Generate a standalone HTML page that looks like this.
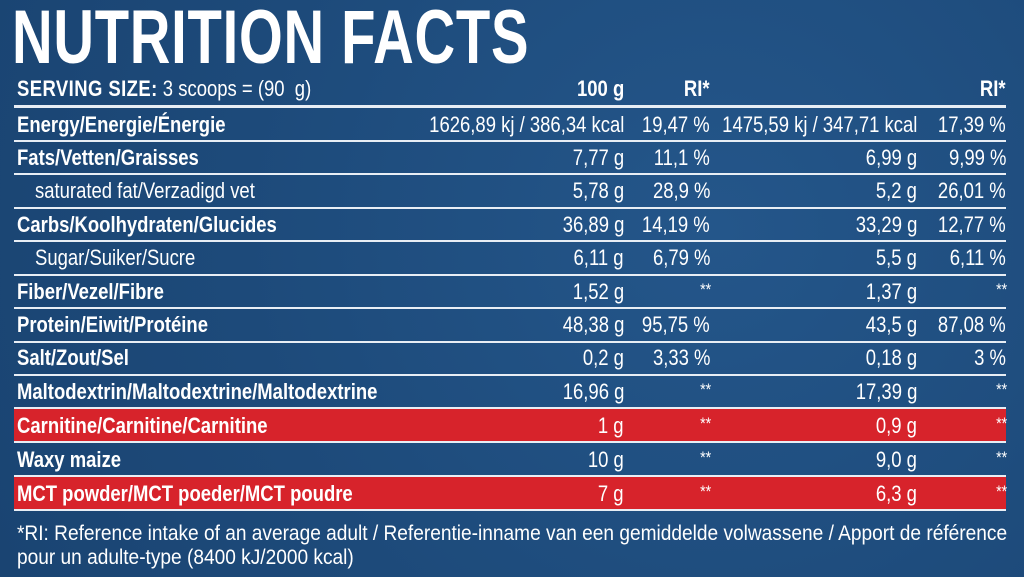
<!DOCTYPE html>
<html><head><meta charset="utf-8"><style>
body{margin:0;width:1024px;height:577px;overflow:hidden;background:#1e4c7c;font-family:"Liberation Sans",sans-serif;color:#fff;position:relative}
.bg{position:absolute;inset:0;background:radial-gradient(circle at 70% 40%,#24568a 0,#1d4a7a 60%,#1a4472 100%)}
.t{position:absolute;white-space:nowrap;transform:scaleX(.84);transform-origin:left center;font-size:22px;line-height:24px}
.r{position:absolute;white-space:nowrap;transform:scaleX(.84);transform-origin:right center;font-size:22px;line-height:24px;text-align:right}
.s{font-size:17px;top:0}
.b{font-weight:bold}
.line{position:absolute;left:14px;width:992px;height:2px;background:#e8eef5}
.red{position:absolute;left:14px;width:992px;background:#d7232b}
</style></head><body>
<div class="bg"></div>
<div style="position:absolute;left:12px;top:-4px;font-size:76px;font-weight:bold;line-height:84px;transform:scaleX(.74);transform-origin:left;white-space:nowrap;letter-spacing:1px">NUTRITION FACTS</div>
<div class="t" style="left:17px;top:77px"><b style="letter-spacing:0.5px">SERVING SIZE:</b> 3 scoops = (90&nbsp; g)</div>
<div class="r b" style="right:400px;top:77px">100 g</div>
<div class="r b" style="right:314px;top:77px">RI*</div>
<div class="r b" style="right:18px;top:77px">RI*</div>
<div class="line" style="top:105px;height:3px"></div>
<div class="red" style="top:408px;height:33px"></div>
<div class="red" style="top:476px;height:33px"></div>
<div class="line" style="top:140px"></div><div class="line" style="top:173px"></div><div class="line" style="top:207px"></div><div class="line" style="top:240px"></div><div class="line" style="top:274px"></div><div class="line" style="top:307px"></div><div class="line" style="top:341px"></div><div class="line" style="top:374px"></div><div class="line" style="top:407px"></div><div class="line" style="top:441px"></div><div class="line" style="top:475px"></div><div class="line" style="top:509px"></div>

<div class="t b" style="left:17px;top:113px">Energy/Energie/Énergie</div>
<div class="r" style="right:400px;top:113px">1626,89 kj / 386,34 kcal</div><div class="r" style="right:314px;top:113px">19,47 %</div><div class="r" style="right:107px;top:113px">1475,59 kj / 347,71 kcal</div><div class="r" style="right:18px;top:113px">17,39 %</div>

<div class="t b" style="left:17px;top:146px">Fats/Vetten/Graisses</div>
<div class="r" style="right:400px;top:146px">7,77 g</div><div class="r" style="right:314px;top:146px">11,1 %</div><div class="r" style="right:107px;top:146px">6,99 g</div><div class="r" style="right:18px;top:146px">9,99 %</div>

<div class="t" style="left:35px;top:179px">saturated fat/Verzadigd vet</div>
<div class="r" style="right:400px;top:179px">5,78 g</div><div class="r" style="right:314px;top:179px">28,9 %</div><div class="r" style="right:107px;top:179px">5,2 g</div><div class="r" style="right:18px;top:179px">26,01 %</div>

<div class="t b" style="left:17px;top:213px">Carbs/Koolhydraten/Glucides</div>
<div class="r" style="right:400px;top:213px">36,89 g</div><div class="r" style="right:314px;top:213px">14,19 %</div><div class="r" style="right:107px;top:213px">33,29 g</div><div class="r" style="right:18px;top:213px">12,77 %</div>

<div class="t" style="left:35px;top:246px">Sugar/Suiker/Sucre</div>
<div class="r" style="right:400px;top:246px">6,11 g</div><div class="r" style="right:314px;top:246px">6,79 %</div><div class="r" style="right:107px;top:246px">5,5 g</div><div class="r" style="right:18px;top:246px">6,11 %</div>

<div class="t b" style="left:17px;top:280px">Fiber/Vezel/Fibre</div>
<div class="r" style="right:400px;top:280px">1,52 g</div><div class="r s" style="right:313px;top:278px">**</div><div class="r" style="right:107px;top:280px">1,37 g</div><div class="r s" style="right:17px;top:278px">**</div>

<div class="t b" style="left:17px;top:313px">Protein/Eiwit/Protéine</div>
<div class="r" style="right:400px;top:313px">48,38 g</div><div class="r" style="right:314px;top:313px">95,75 %</div><div class="r" style="right:107px;top:313px">43,5 g</div><div class="r" style="right:18px;top:313px">87,08 %</div>

<div class="t b" style="left:17px;top:346px">Salt/Zout/Sel</div>
<div class="r" style="right:400px;top:346px">0,2 g</div><div class="r" style="right:314px;top:346px">3,33 %</div><div class="r" style="right:107px;top:346px">0,18 g</div><div class="r" style="right:18px;top:346px">3 %</div>

<div class="t b" style="left:17px;top:380px">Maltodextrin/Maltodextrine/Maltodextrine</div>
<div class="r" style="right:400px;top:380px">16,96 g</div><div class="r s" style="right:313px;top:378px">**</div><div class="r" style="right:107px;top:380px">17,39 g</div><div class="r s" style="right:17px;top:378px">**</div>

<div class="t b" style="left:17px;top:414px">Carnitine/Carnitine/Carnitine</div>
<div class="r" style="right:400px;top:414px">1 g</div><div class="r s" style="right:313px;top:412px">**</div><div class="r" style="right:107px;top:414px">0,9 g</div><div class="r s" style="right:17px;top:412px">**</div>

<div class="t b" style="left:17px;top:448px">Waxy maize</div>
<div class="r" style="right:400px;top:448px">10 g</div><div class="r s" style="right:313px;top:446px">**</div><div class="r" style="right:107px;top:448px">9,0 g</div><div class="r s" style="right:17px;top:446px">**</div>

<div class="t b" style="left:17px;top:482px">MCT powder/MCT poeder/MCT poudre</div>
<div class="r" style="right:400px;top:482px">7 g</div><div class="r s" style="right:313px;top:480px">**</div><div class="r" style="right:107px;top:482px">6,3 g</div><div class="r s" style="right:17px;top:480px">**</div>

<div class="t" style="left:17px;top:522px;font-size:21px;transform:scaleX(.91)">*RI: Reference intake of an average adult / Referentie-inname van een gemiddelde volwassene / Apport de référence</div>
<div class="t" style="left:17px;top:546px;font-size:21px;transform:scaleX(.91)">pour un adulte-type (8400 kJ/2000 kcal)</div>
</body></html>
